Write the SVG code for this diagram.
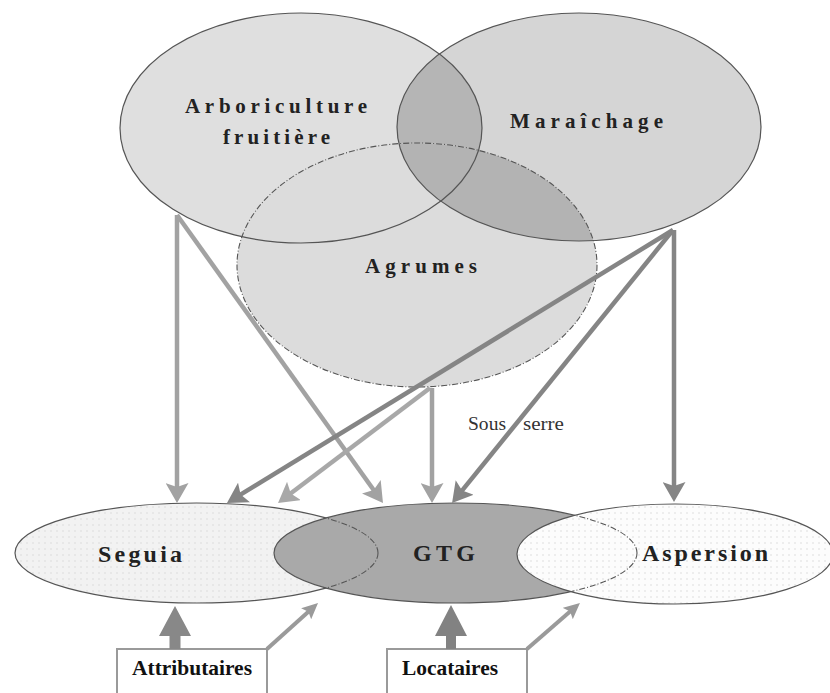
<svg xmlns="http://www.w3.org/2000/svg" width="830" height="693" viewBox="0 0 830 693">
<style>
  .big { font-family: "Liberation Serif", "Times New Roman", serif; font-weight: bold; font-size: 21px; fill: #222; }
  .bot { font-family: "Liberation Serif", "Times New Roman", serif; font-weight: bold; font-size: 24px; fill: #222; }
  .box { font-family: "Liberation Serif", "Times New Roman", serif; font-weight: bold; font-size: 21px; fill: #111; }
  .lbl { font-family: "Liberation Serif", "Times New Roman", serif; font-size: 18px; fill: #333; }
  .outline { fill: none; stroke: #555; stroke-width: 1.2; }
  .dash { fill: none; stroke: #555; stroke-width: 1.1; stroke-dasharray: 6 2 1 2; }
  .boxr { fill: #fff; stroke: #9a9a9a; stroke-width: 2; }
  .c-light { fill: none; stroke: #a2a2a2; stroke-width: 4.5; marker-end: url(#hLight); }
  .c-pale { fill: none; stroke: #a8a8a8; stroke-width: 4.5; marker-end: url(#hPale); }
  .c-dark { fill: none; stroke: #858585; stroke-width: 4.5; marker-end: url(#hDark); }
  .c-small { fill: none; stroke: #9a9a9a; stroke-width: 4; marker-end: url(#hSmall); }
</style>
<defs>
  <marker id="hLight" markerUnits="userSpaceOnUse" markerWidth="20" markerHeight="23" refX="8" refY="11.5" orient="auto">
    <path d="M0,0 L20,11.5 L0,23 L4,11.5 z" fill="#a2a2a2"/>
  </marker>
  <marker id="hPale" markerUnits="userSpaceOnUse" markerWidth="20" markerHeight="23" refX="8" refY="11.5" orient="auto">
    <path d="M0,0 L20,11.5 L0,23 L4,11.5 z" fill="#a8a8a8"/>
  </marker>
  <marker id="hDark" markerUnits="userSpaceOnUse" markerWidth="20" markerHeight="23" refX="8" refY="11.5" orient="auto">
    <path d="M0,0 L20,11.5 L0,23 L4,11.5 z" fill="#858585"/>
  </marker>
  <marker id="hSmall" markerUnits="userSpaceOnUse" markerWidth="16" markerHeight="15" refX="6" refY="7.5" orient="auto">
    <path d="M0,0 L16,7.5 L0,15 L3,7.5 z" fill="#9a9a9a"/>
  </marker>
  <pattern id="dotS" width="6" height="6" patternUnits="userSpaceOnUse">
    <rect width="6" height="6" fill="#f2f2f2"/>
    <rect x="2" y="2" width="2" height="2" fill="#e7e7e7"/>
  </pattern>
  <pattern id="dotA" width="6" height="6" patternUnits="userSpaceOnUse">
    <rect width="6" height="6" fill="#fcfcfc"/>
    <rect x="2" y="2" width="2" height="2" fill="#ededed"/>
  </pattern>
  <clipPath id="cArbo"><ellipse cx="301" cy="128" rx="181" ry="115"/></clipPath>
  <clipPath id="cMara"><ellipse cx="579" cy="127" rx="182" ry="114"/></clipPath>
  <clipPath id="cGtg"><ellipse cx="455.5" cy="553" rx="181.5" ry="50"/></clipPath>
  <clipPath id="cAsp"><ellipse cx="675" cy="554" rx="158" ry="50"/></clipPath>
</defs>

<rect width="830" height="693" fill="#fff"/>

<g id="arboriculture">
  <ellipse cx="301" cy="128" rx="181" ry="115" fill="#dfdfdf"/>
  <text class="big" x="185" y="113" textLength="182" lengthAdjust="spacing">Arboriculture</text>
  <text class="big" x="223" y="144" textLength="107" lengthAdjust="spacing">fruitière</text>
</g>

<g id="maraichage">
  <ellipse cx="579" cy="127" rx="182" ry="114" fill="#d5d5d5"/>
  <ellipse cx="579" cy="127" rx="182" ry="114" fill="#b5b5b5" clip-path="url(#cArbo)"/>
  <text class="big" x="510" y="128" textLength="153" lengthAdjust="spacing">Maraîchage</text>
</g>

<g id="agrumes">
  <ellipse cx="417" cy="265" rx="180" ry="122" fill="#dcdcdc"/>
  <ellipse cx="417" cy="265" rx="180" ry="122" fill="#b3b3b3" clip-path="url(#cMara)"/>
  <text class="big" x="365" y="273" textLength="112" lengthAdjust="spacing">Agrumes</text>
</g>

<g id="top-outlines">
  <ellipse class="outline" cx="301" cy="128" rx="181" ry="115"/>
  <ellipse class="outline" cx="579" cy="127" rx="182" ry="114"/>
  <ellipse class="dash" cx="417" cy="265" rx="180" ry="122"/>
</g>

<g id="seguia">
  <ellipse cx="196.5" cy="553" rx="181.5" ry="50" fill="url(#dotS)" stroke="#555" stroke-width="1.2"/>
  <text class="bot" x="98" y="562" textLength="84" lengthAdjust="spacing">Seguia</text>
</g>

<g id="gtg">
  <ellipse cx="455.5" cy="553" rx="181.5" ry="50" fill="#a9a9a9" stroke="#555" stroke-width="1.2"/>
  <ellipse class="dash" cx="196.5" cy="553" rx="181.5" ry="50" clip-path="url(#cGtg)"/>
  <text class="bot" x="413" y="561" textLength="62" lengthAdjust="spacing">GTG</text>
</g>

<g id="aspersion">
  <ellipse cx="675" cy="554" rx="158" ry="50" fill="url(#dotA)" stroke="#555" stroke-width="1.2"/>
  <ellipse class="dash" cx="455.5" cy="553" rx="181.5" ry="50" clip-path="url(#cAsp)"/>
  <text class="bot" x="642" y="561" textLength="126" lengthAdjust="spacing">Aspersion</text>
</g>

<g id="attributaires">
  <rect class="boxr" x="117" y="649" width="150" height="60"/>
  <text class="box" x="132" y="675" textLength="120" lengthAdjust="spacingAndGlyphs">Attributaires</text>
</g>

<g id="locataires">
  <rect class="boxr" x="387" y="649" width="140" height="60"/>
  <text class="box" x="402" y="675" textLength="96" lengthAdjust="spacingAndGlyphs">Locataires</text>
</g>

<g id="connectors">
  <line class="c-light" x1="177" y1="215" x2="177" y2="491"/>
  <line class="c-light" x1="177" y1="215" x2="376" y2="493.2"/>
  <line class="c-light" x1="432" y1="388" x2="432" y2="491"/>
  <line class="c-pale" x1="430" y1="388" x2="287.6" y2="495.8"/>
  <line class="c-dark" x1="673" y1="230" x2="237.2" y2="496.7"/>
  <line class="c-dark" x1="673" y1="230" x2="459.6" y2="493.7"/>
  <line class="c-dark" x1="674" y1="230" x2="674" y2="490"/>
  <line class="c-small" x1="267" y1="649" x2="310.6" y2="609.7"/>
  <line class="c-small" x1="527" y1="649" x2="572.4" y2="609.6"/>
  <path d="M169.5,649 V636 H159 L175,606 L191,636 H180.5 V649 Z" fill="#888"/>
  <path d="M446,649 V636 H435 L451,605 L467,636 H456 V649 Z" fill="#828282"/>
  <text class="lbl" x="468" y="430" textLength="38" lengthAdjust="spacingAndGlyphs">Sous</text>
  <text class="lbl" x="523" y="430" textLength="41" lengthAdjust="spacingAndGlyphs">serre</text>
</g>
</svg>
